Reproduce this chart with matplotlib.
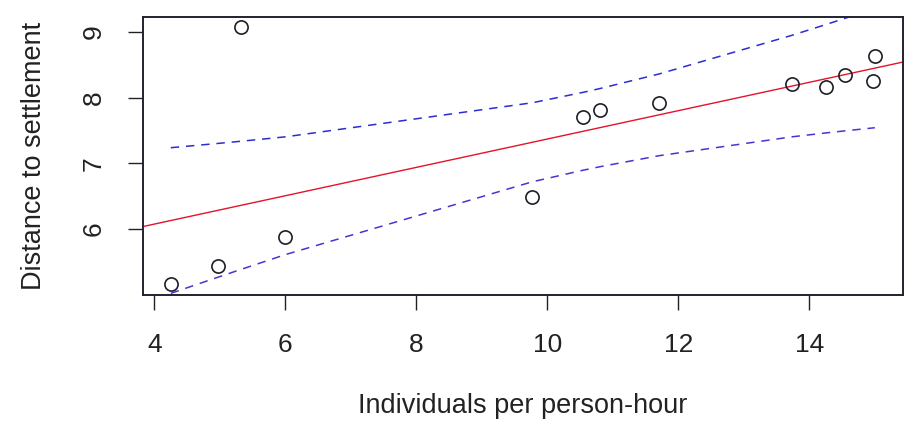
import numpy as np
import matplotlib
matplotlib.use("Agg")
from matplotlib import pyplot as plt

individuals = [4.25, 4.97, 5.32, 6.00, 9.77, 10.55, 10.80, 11.71, 13.74, 14.26, 14.54, 14.97, 15.00]
distance = [5.16, 5.44, 9.08, 5.88, 6.48, 7.70, 7.81, 7.92, 8.21, 8.17, 8.34, 8.26, 8.64]
x_ticks = [4, 6, 8, 10, 12, 14]
y_ticks = [6, 7, 8, 9]
T_975 = 2.201  # t quantile, 11 df

plt.rcParams['font.family'] = ['Liberation Sans', 'DejaVu Sans']

x = np.array(individuals)
y = np.array(distance)
slope, intercept = np.polyfit(x, y, 1)
n = len(x)
resid = y - (intercept + slope * x)
s = np.sqrt(np.sum(resid ** 2) / (n - 2))
sxx = np.sum((x - x.mean()) ** 2)
xs = np.sort(x)
fit = intercept + slope * xs
half = T_975 * s * np.sqrt(1.0 / n + (xs - x.mean()) ** 2 / sxx)

fig = plt.figure(figsize=(9.12, 4.25), dpi=100)
ax = fig.add_axes((143 / 912, 1 - 295 / 425, 760 / 912, 278 / 425))

ax.axline((0, intercept), slope=slope, color='#e3142a', lw=1.0, zorder=2)
ax.plot(xs, fit + half, color='#2c2cd0', lw=1.1, dashes=(5.5, 4.5), zorder=2)
ax.plot(xs, fit - half, color='#5030d0', lw=1.1, dashes=(5.5, 4.5), zorder=2)
ax.plot(x, y, 'o', mfc='none', mec='#1e1e28', ms=9.5, mew=1.2, zorder=3)

ax.set_xlim(3.826, 15.43)
ax.set_ylim(4.994, 9.23)
ax.set_xticks(x_ticks)
ax.set_yticks(y_ticks)
ax.tick_params(length=11, width=1.0, color='#222222', pad=16, labelsize=19, labelcolor='#222222')
ax.tick_params(axis='y', labelrotation=90)
for lab in ax.get_yticklabels():
    lab.set_va('center')
for sp in ax.spines.values():
    sp.set_linewidth(1.4)
    sp.set_color('#222230')

ax.set_xlabel("Individuals per person-hour", fontsize=19.5, labelpad=26, color='#222222')
ax.set_ylabel("Distance to settlement", fontsize=19.5, labelpad=25, color='#222222')

fig.savefig("out.png", dpi=100)
